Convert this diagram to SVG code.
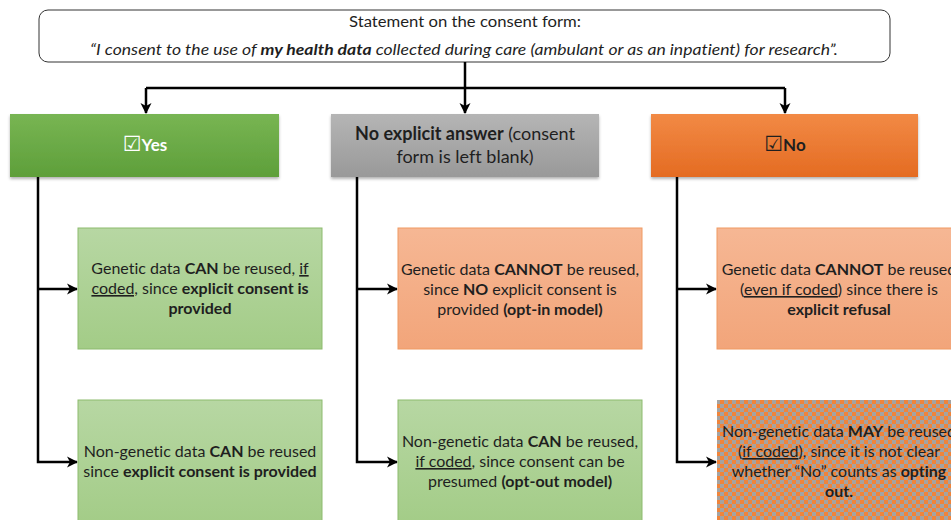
<svg xmlns="http://www.w3.org/2000/svg" width="951" height="520" viewBox="0 0 951 520">
  <style>
    .t { font-family: Lato, "Open Sans", "DejaVu Sans", sans-serif; fill: #1f1f1f; font-variant-ligatures: none; }
    .b { font-weight: bold; }
    .u { text-decoration: underline; }
    .wire { fill: none; stroke: #000; stroke-width: 2.5; }
    .card { font-size: 16px; text-anchor: middle; }
    .box { font-family: "DejaVu Sans", sans-serif; font-size: 21px; font-weight: normal; }
  </style>
  <defs>
    <marker id="arrow" markerUnits="userSpaceOnUse" markerWidth="14" markerHeight="14" refX="11" refY="7" orient="auto">
      <path d="M1,1.5 L12,7 L1,12.5 L4,7 Z" fill="#000"/>
    </marker>
    <linearGradient id="gGreen" x1="0" y1="0" x2="0" y2="1">
      <stop offset="0" stop-color="#78b553"/>
      <stop offset="1" stop-color="#5e9f3a"/>
    </linearGradient>
    <linearGradient id="gGray" x1="0" y1="0" x2="0" y2="1">
      <stop offset="0" stop-color="#b5b5b5"/>
      <stop offset="1" stop-color="#999999"/>
    </linearGradient>
    <linearGradient id="gOrange" x1="0" y1="0" x2="0" y2="1">
      <stop offset="0" stop-color="#f28a45"/>
      <stop offset="1" stop-color="#e46b22"/>
    </linearGradient>
    <linearGradient id="gLightGreen" x1="0" y1="0" x2="0" y2="1">
      <stop offset="0" stop-color="#b7d7a3"/>
      <stop offset="1" stop-color="#a3cc87"/>
    </linearGradient>
    <linearGradient id="gSalmon" x1="0" y1="0" x2="0" y2="1">
      <stop offset="0" stop-color="#f6b794"/>
      <stop offset="1" stop-color="#f2a57a"/>
    </linearGradient>
    <pattern id="checker" width="8" height="8" patternUnits="userSpaceOnUse">
      <rect width="8" height="8" fill="#a3a3a3"/>
      <rect width="4" height="4" fill="#f0843a"/>
      <rect x="4" y="4" width="4" height="4" fill="#f0843a"/>
    </pattern>
    <filter id="shadow" x="-5%" y="-10%" width="110%" height="130%">
      <feDropShadow dx="0" dy="2" stdDeviation="1.5" flood-color="#000" flood-opacity="0.3"/>
    </filter>
  </defs>

  <rect width="951" height="520" fill="#fff"/>

  <!-- consent form statement -->
  <g id="statement">
    <rect x="39" y="10" width="851" height="52" rx="9" fill="#fff" stroke="#333" stroke-width="1"/>
    <text class="t" x="465" y="27" font-size="14.5" text-anchor="middle" textLength="232" lengthAdjust="spacingAndGlyphs">Statement on the consent form:</text>
    <text class="t" x="464" y="55" font-size="15" font-style="italic" text-anchor="middle" textLength="748" lengthAdjust="spacingAndGlyphs">“I consent to the use of <tspan class="b">my health data</tspan> collected during care (ambulant or as an inpatient) for research”.</text>
  </g>

  <!-- connectors -->
  <g id="connectors">
    <path class="wire" d="M465,62 V113" marker-end="url(#arrow)"/>
    <path class="wire" d="M146,88 H785"/>
    <path class="wire" d="M146,88 V113" marker-end="url(#arrow)"/>
    <path class="wire" d="M785,88 V113" marker-end="url(#arrow)"/>

    <path class="wire" d="M38,177 V462 H77" marker-end="url(#arrow)"/>
    <path class="wire" d="M38,289 H77" marker-end="url(#arrow)"/>

    <path class="wire" d="M357,177 V462 H397" marker-end="url(#arrow)"/>
    <path class="wire" d="M357,289 H397" marker-end="url(#arrow)"/>

    <path class="wire" d="M677,177 V462 H716" marker-end="url(#arrow)"/>
    <path class="wire" d="M677,289 H716" marker-end="url(#arrow)"/>
  </g>

  <!-- answer headers -->
  <g id="yes">
    <rect x="10" y="114" width="269" height="63" fill="url(#gGreen)" filter="url(#shadow)"/>
    <text class="t b" x="145" y="151" font-size="17" text-anchor="middle" style="fill:#fff"><tspan class="box">☑</tspan>Yes</text>
  </g>
  <g id="no-answer">
    <rect x="331" y="114" width="268" height="63" fill="url(#gGray)" filter="url(#shadow)"/>
    <text class="t" x="465" y="140" font-size="18" text-anchor="middle"><tspan class="b">No explicit answer</tspan> (consent</text>
    <text class="t" x="465" y="163" font-size="18" text-anchor="middle">form is left blank)</text>
  </g>
  <g id="no">
    <rect x="651" y="114" width="267" height="63" fill="url(#gOrange)" filter="url(#shadow)"/>
    <text class="t b" x="785" y="151" font-size="17" text-anchor="middle"><tspan class="box">☑</tspan>No</text>
  </g>

  <!-- outcomes: Yes -->
  <g id="yes-genetic">
    <rect x="78" y="228" width="244" height="121" fill="url(#gLightGreen)" stroke="#8dbb6e" stroke-width="1"/>
    <text class="t card" x="200" y="274">Genetic data <tspan class="b">CAN</tspan> be reused, <tspan class="u">if</tspan></text>
    <text class="t card" x="200" y="294"><tspan class="u">coded,</tspan> since <tspan class="b">explicit consent is</tspan></text>
    <text class="t card b" x="200" y="314">provided</text>
  </g>
  <g id="yes-nongenetic">
    <rect x="78" y="400" width="244" height="125" fill="url(#gLightGreen)" stroke="#8dbb6e" stroke-width="1"/>
    <text class="t card" x="200" y="457">Non-genetic data <tspan class="b">CAN</tspan> be reused</text>
    <text class="t card" x="200" y="477">since <tspan class="b">explicit consent is provided</tspan></text>
  </g>

  <!-- outcomes: no explicit answer -->
  <g id="blank-genetic">
    <rect x="398" y="228" width="244" height="121" fill="url(#gSalmon)" stroke="#f09a62" stroke-width="1"/>
    <text class="t card" x="520" y="275">Genetic data <tspan class="b">CANNOT</tspan> be reused,</text>
    <text class="t card" x="520" y="295">since <tspan class="b">NO</tspan> explicit consent is</text>
    <text class="t card" x="520" y="315">provided <tspan class="b">(opt-in model)</tspan></text>
  </g>
  <g id="blank-nongenetic">
    <rect x="398" y="400" width="244" height="125" fill="url(#gLightGreen)" stroke="#8dbb6e" stroke-width="1"/>
    <text class="t card" x="520" y="447">Non-genetic data <tspan class="b">CAN</tspan> be reused,</text>
    <text class="t card" x="520" y="467"><tspan class="u">if coded</tspan>, since consent can be</text>
    <text class="t card" x="520" y="487">presumed <tspan class="b">(opt-out model)</tspan></text>
  </g>

  <!-- outcomes: No -->
  <g id="no-genetic">
    <rect x="717" y="228" width="250" height="121" fill="url(#gSalmon)" stroke="#f09a62" stroke-width="1"/>
    <text class="t card" x="839" y="275">Genetic data <tspan class="b">CANNOT</tspan> be reused</text>
    <text class="t card" x="839" y="295">(<tspan class="u">even if coded</tspan>) since there is</text>
    <text class="t card b" x="839" y="315">explicit refusal</text>
  </g>
  <g id="no-nongenetic">
    <rect x="717" y="400" width="250" height="125" fill="url(#checker)"/>
    <text class="t card" x="839" y="437">Non-genetic data <tspan class="b">MAY</tspan> be reused</text>
    <text class="t card" x="839" y="457">(<tspan class="u">if coded</tspan>), since it is not clear</text>
    <text class="t card" x="839" y="477">whether “No” counts as <tspan class="b">opting</tspan></text>
    <text class="t card b" x="839" y="497">out.</text>
  </g>
</svg>
